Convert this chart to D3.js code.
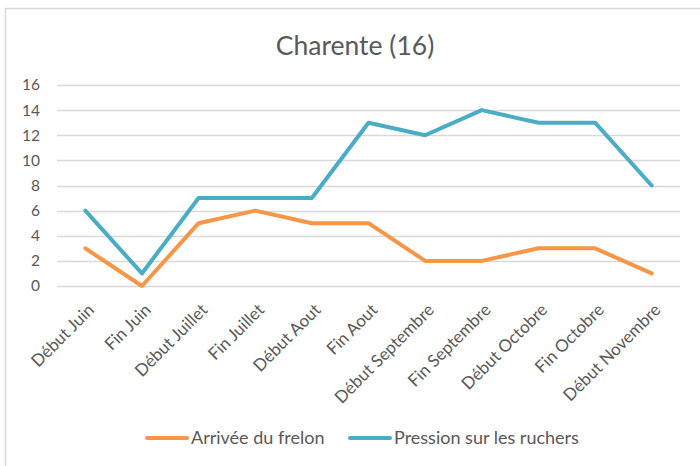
<!DOCTYPE html>
<html>
<head>
<meta charset="utf-8">
<script src="https://cdn.jsdelivr.net/npm/d3@7"></script>
<style>
  body { margin: 0; background: #fff; }
  .chart text { font-family: Lato, "Open Sans", sans-serif; fill: #595959; }
  .axis path, .axis line { display: none; }
</style>
</head>
<body>
<div id="chart" class="chart"></div>
<script>
const categories = ['Début Juin', 'Fin Juin', 'Début Juillet', 'Fin Juillet', 'Début Aout', 'Fin Aout',
  'Début Septembre', 'Fin Septembre', 'Début Octobre', 'Fin Octobre', 'Début Novembre'];
const arrivee = [3, 0, 5, 6, 5, 5, 2, 2, 3, 3, 1];
const pression = [6, 1, 7, 7, 7, 13, 12, 14, 13, 13, 8];
const yTicks = [0, 2, 4, 6, 8, 10, 12, 14, 16];
const seriesNames = ['Arrivée du frelon', 'Pression sur les ruchers'];
const colors = ['#F79646', '#4BACC6'];

const W = 700, H = 466;

const svg = d3.select('#chart').append('svg')
  .attr('width', W).attr('height', H);

// outer chart frame
svg.append('rect')
  .attr('x', 5.5).attr('y', 8.5)
  .attr('width', 720).attr('height', 480)
  .attr('fill', '#fff').attr('stroke', '#d9d9d9').attr('stroke-width', 1.5);

svg.append('text')
  .attr('x', 355).attr('y', 55)
  .attr('text-anchor', 'middle')
  .style('font-size', '26.5px')
  .text('Charente (16)');

const x = d3.scaleBand().domain(categories).range([57, 680]);
const y = d3.scaleLinear().domain([0, 16]).range([286, 85]);

// gridlines
svg.append('g').selectAll('line')
  .data(yTicks)
  .enter().append('line')
  .attr('x1', 57).attr('x2', 680)
  .attr('y1', d => Math.round(y(d)) + 0.5).attr('y2', d => Math.round(y(d)) + 0.5)
  .attr('stroke', '#d9d9d9').attr('stroke-width', 1.5);

const yAxis = svg.append('g')
  .attr('class', 'axis')
  .attr('transform', 'translate(57,0)')
  .call(d3.axisLeft(y).tickValues(yTicks).tickSize(0).tickPadding(17));
yAxis.selectAll('text').style('font-size', '15.5px');

const xAxis = svg.append('g')
  .attr('class', 'axis')
  .attr('transform', 'translate(0,286)')
  .call(d3.axisBottom(x).tickSize(0).tickPadding(0));
xAxis.selectAll('text')
  .style('font-size', '17px')
  .attr('text-anchor', 'end')
  .attr('dy', 0)
  .attr('transform', 'translate(10,25) rotate(-45)');

const line = d3.line()
  .x((d, i) => x(categories[i]) + x.bandwidth() / 2)
  .y(d => y(d));

[arrivee, pression].forEach((s, k) => {
  svg.append('path')
    .datum(s)
    .attr('d', line)
    .attr('fill', 'none')
    .attr('stroke', colors[k])
    .attr('stroke-width', 4)
    .attr('stroke-linejoin', 'round')
    .attr('stroke-linecap', 'round');
});

// legend
const legendX = [147, 350];
const legend = svg.append('g');
seriesNames.forEach((name, k) => {
  legend.append('line')
    .attr('x1', legendX[k]).attr('x2', legendX[k] + 40)
    .attr('y1', 438).attr('y2', 438)
    .attr('stroke', colors[k]).attr('stroke-width', 4)
    .attr('stroke-linecap', 'round');
  legend.append('text')
    .attr('x', legendX[k] + 44).attr('y', 444)
    .style('font-size', '18px')
    .text(name);
});
</script>
</body>
</html>
